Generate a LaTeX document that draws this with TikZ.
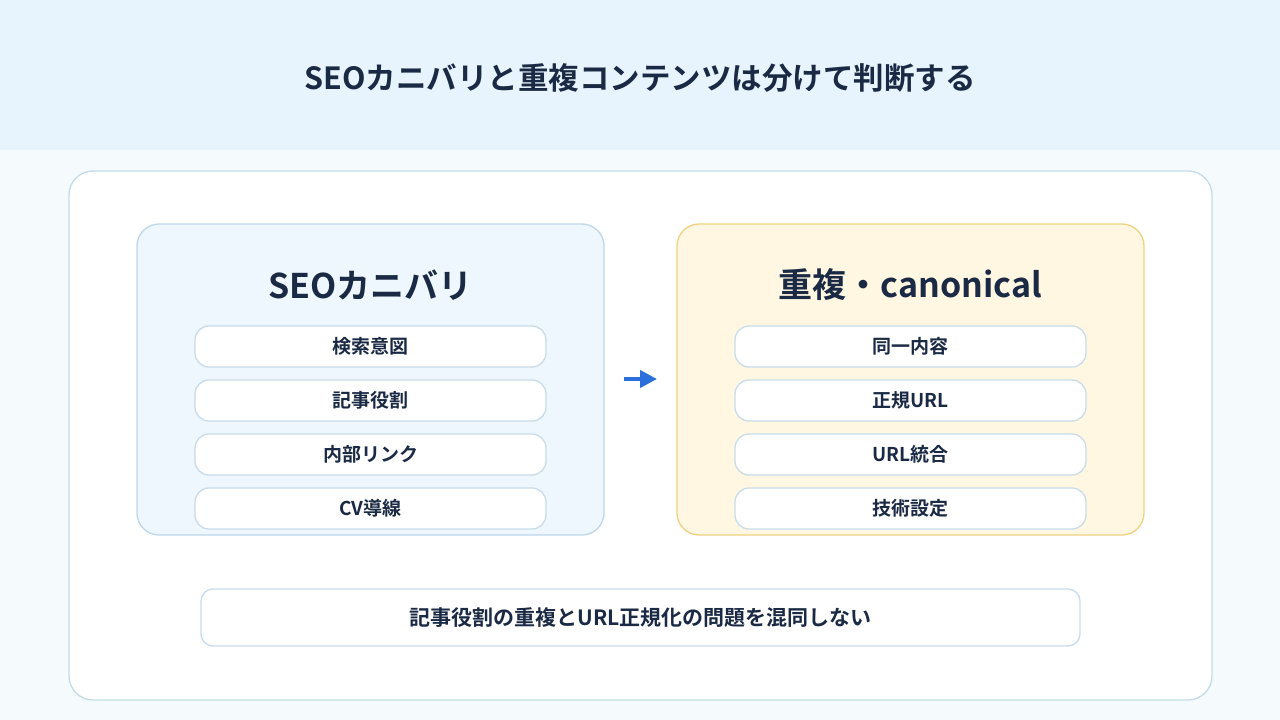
\documentclass[tikz,border=0pt]{standalone}
\usepackage{fontspec}
\setmainfont{Noto Sans CJK JP}[BoldFont={Noto Sans CJK JP Bold}]
\usetikzlibrary{arrows.meta}
\definecolor{navy}{HTML}{1B2A44}
\definecolor{band}{HTML}{E8F4FD}
\definecolor{pagebg}{HTML}{F5FAFD}
\definecolor{panelline}{HTML}{C3DCEA}
\definecolor{leftfill}{HTML}{EEF6FE}
\definecolor{leftline}{HTML}{BFD7EA}
\definecolor{rightfill}{HTML}{FFF7E2}
\definecolor{rightline}{HTML}{EFD17F}
\definecolor{itemline}{HTML}{C8DCEA}
\definecolor{arrowblue}{HTML}{2A6FDB}
\tikzset{
  x=1pt, y=-1pt,
  panel/.style={draw=panelline, line width=1.3pt, fill=white, rounded corners=24pt},
  groupbox/.style={line width=1.3pt, rounded corners=22pt},
  itembox/.style={draw=itemline, line width=1.3pt, fill=white, rounded corners=14pt,
    minimum width=351pt, minimum height=41pt, inner sep=0pt, anchor=center,
    font=\bfseries\fontsize{19}{22}\selectfont, text=navy},
  grouptitle/.style={font=\bfseries\fontsize{34}{40}\selectfont, text=navy, inner sep=0pt},
}
\begin{document}
\begin{tikzpicture}
\useasboundingbox (0,0) rectangle (1280,720);
\fill[pagebg] (0,0) rectangle (1280,720);
\fill[band] (0,0) rectangle (1280,150);
\node[font=\bfseries\fontsize{30.5}{34}\selectfont, text=navy, inner sep=0pt] (title) at (640,78) {SEOカニバリと重複コンテンツは分けて判断する};
\draw[panel] (69,171) rectangle (1212,700);
% left group
\draw[groupbox, draw=leftline, fill=leftfill] (137,224) rectangle (604,535);
\node[grouptitle] (ltitle) at (370.5,285) {SEOカニバリ};
\node[itembox] (l1) at (370.5,346.5) {検索意図};
\node[itembox] (l2) at (370.5,400.5) {記事役割};
\node[itembox] (l3) at (370.5,454.5) {内部リンク};
\node[itembox] (l4) at (370.5,508.5) {CV導線};
% right group
\draw[groupbox, draw=rightline, fill=rightfill] (677,224) rectangle (1144,535);
\node[grouptitle] (rtitle) at (910.5,285) {重複・canonical};
\node[itembox] (r1) at (910.5,346.5) {同一内容};
\node[itembox] (r2) at (910.5,400.5) {正規URL};
\node[itembox] (r3) at (910.5,454.5) {URL統合};
\node[itembox] (r4) at (910.5,508.5) {技術設定};
% arrow
\coordinate (aS) at (624,379);
\coordinate (aE) at (657,379);
\draw[arrowblue, line width=4pt, -{Triangle[length=17pt,width=17pt]}] (aS) -- (aE);
% bottom note
\node[draw=itemline, line width=1.3pt, fill=white, rounded corners=12pt,
  minimum width=879pt, minimum height=57pt, inner sep=0pt,
  font=\bfseries\fontsize{21}{24}\selectfont, text=navy] (note) at (640.5,617.5) {記事役割の重複とURL正規化の問題を混同しない};
\end{tikzpicture}
\end{document}
